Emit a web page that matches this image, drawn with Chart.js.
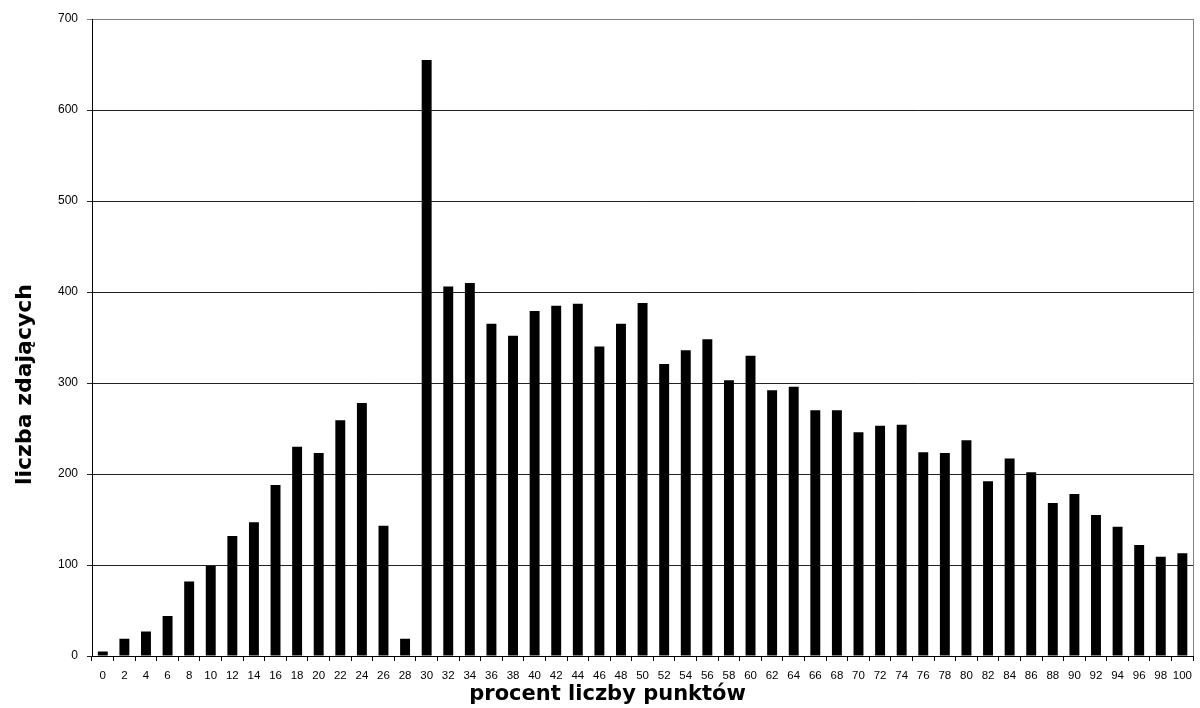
<!DOCTYPE html>
<html><head><meta charset="utf-8">
<script src="https://cdn.jsdelivr.net/npm/chart.js@4/dist/chart.umd.min.js"></script>
<style>html,body{margin:0;padding:0;background:#fff}#wrap{width:1200px;height:708px}</style>
</head><body><div id="wrap"><canvas id="c" width="1200" height="708"></canvas></div>
<script>
const categories = ["0","2","4","6","8","10","12","14","16","18","20","22","24","26","28","30","32","34","36","38","40","42","44","46","48","50","52","54","56","58","60","62","64","66","68","70","72","74","76","78","80","82","84","86","88","90","92","94","96","98","100"];
const counts = [5,19,27,44,82,99,132,147,188,230,223,259,278,143,19,655,406,410,365,352,379,385,387,340,365,388,321,336,348,303,330,292,296,270,270,246,253,254,224,223,237,192,217,202,168,178,155,142,122,109,113];
const yTicks = [0,100,200,300,400,500,600,700];
const xTitle = "procent liczby punktów";
const yTitle = "liczba zdających";

const frame = {
  id:'frame',
  afterLayout(chart){
    const yT = chart.scales.yT, xT = chart.scales.xT;
    yT.top += 47; yT.bottom += 47;
    xT.left -= 35; xT.right -= 35;
  },
  afterDraw(chart){
    const a = chart.chartArea, ctx = chart.ctx;
    ctx.save();
    ctx.strokeStyle = '#808080'; ctx.lineWidth = 1;
    ctx.beginPath(); ctx.moveTo(Math.round(a.right)+0.5, a.top); ctx.lineTo(Math.round(a.right)+0.5, a.bottom); ctx.stroke();
    ctx.restore();
  }
};

new Chart(document.getElementById('c'), {
  type:'bar',
  data:{labels:categories, datasets:[{data:counts, backgroundColor:'#000', borderWidth:0, barPercentage:0.46, categoryPercentage:1.0}]},
  options:{
    responsive:false, animation:false,
    layout:{padding:{top:19, right:5, left:0, bottom:0}},
    plugins:{legend:{display:false}, tooltip:{enabled:false}},
    scales:{
      x:{
        afterFit(scale){ scale.height = 28; },
        grid:{display:true, drawOnChartArea:false, drawTicks:true, tickLength:5, color:'#000', offset:true},
        border:{color:'#000'},
        ticks:{color:'#000', font:{family:'"Liberation Sans Narrow","Liberation Sans",Arial', size:11.5}, maxRotation:0, autoSkip:false, padding:8}
      },
      xT:{
        type:'category', axis:'x', position:'bottom', weight:1,
        afterFit(scale){ scale.height = 24; },
        grid:{display:false}, border:{display:false}, ticks:{display:false},
        title:{display:true, text:xTitle, color:'#000', font:{family:'"DejaVu Sans",Arial', size:21, weight:'bold'}, padding:{top:0,bottom:1}}
      },
      y:{
        min:0, max:700,
        afterFit(scale){ scale.width = 52; },
        afterBuildTicks(axis){ axis.ticks = yTicks.map(v=>({value:v})); },
        grid:{color:(ctx)=> ctx.tick && ctx.tick.value===700 ? '#808080' : '#222', tickLength:5, drawTicks:true},
        border:{color:'#000'},
        ticks:{color:'#000', font:{family:'"Liberation Sans",Arial', size:12}, padding:9}
      },
      yT:{
        type:'linear', axis:'y', position:'left', weight:1,
        afterFit(scale){ scale.width = 40; },
        grid:{display:false}, border:{display:false}, ticks:{display:false},
        title:{display:true, text:yTitle, color:'#000', font:{family:'"DejaVu Sans",Arial', size:22, weight:'bold'}, padding:{top:12,bottom:0}}
      }
    }
  },
  plugins:[frame]
});
</script></body></html>
